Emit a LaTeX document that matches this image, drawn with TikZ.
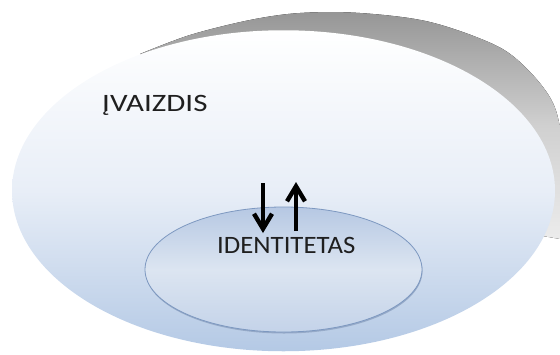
\documentclass[tikz,border=0pt]{standalone}
\usepackage{fontspec}
\usepackage{graphicx}
\setmainfont{Carlito}
\usetikzlibrary{shapes.geometric,arrows.meta}
\definecolor{shadowtop}{RGB}{150,150,150}
\definecolor{shadowmid}{RGB}{208,208,208}
\definecolor{shadowbot}{RGB}{236,236,236}
\definecolor{outermid}{RGB}{232,238,247}
\definecolor{outerbot}{RGB}{180,201,229}
\definecolor{innertop}{RGB}{182,200,227}
\definecolor{innermid}{RGB}{220,229,241}
\definecolor{innerbot}{RGB}{196,211,233}
\definecolor{innerline}{RGB}{125,152,192}
\definecolor{innershadow}{RGB}{150,170,200}
\tikzset{
  blob/.style={ellipse, inner sep=0pt, outer sep=0pt},
  label/.style={font=\fontsize{25}{28}\selectfont, text=black!88, inner sep=0pt, anchor=base west},
  flow/.style={line width=4.4pt, -{Straight Barb[width=18pt,length=15pt,line width=4.4pt]}}
}
\begin{document}
\begin{tikzpicture}[x=1pt,y=-1pt]
\useasboundingbox (0,0) rectangle (560,354);
% grey shadow crescent behind the big ellipse
\fill[top color=shadowtop, bottom color=shadowbot, middle color=shadowmid]
  plot[smooth, tension=0.55] coordinates {(140,54) (190,35) (250,20) (300,13) (360,13) (430,22) (497,46) (530,72) (553,103) (562,140) (566,190) (566,240)}
  -- (450,220) -- (140,57) -- cycle;
\node[blob, minimum width=543pt, minimum height=321pt,
      top color=white, bottom color=outerbot, middle color=outermid] (outer) at (283.5,190.75) {};
\node[blob, minimum width=277pt, minimum height=125pt, fill=innershadow] (innersh) at (284,271) {};
\node[blob, minimum width=277pt, minimum height=125pt, draw=innerline, line width=0.8pt,
      top color=innertop, bottom color=innerbot, middle color=innermid] (inner) at (283.5,269.5) {};
\node[label] (img) at (102,111) {\scalebox{1.24}[1]{ĮVAIZDIS}};
\node[label] (ident) at (217,253) {\scalebox{1.07}[1]{IDENTITETAS}};
\coordinate (d1) at (263,183);
\coordinate (d2) at (263,233);
\coordinate (u1) at (296,231);
\coordinate (u2) at (296,182);
\draw[flow] (d1) -- (d2);
\draw[flow] (u1) -- (u2);
\end{tikzpicture}
\end{document}
